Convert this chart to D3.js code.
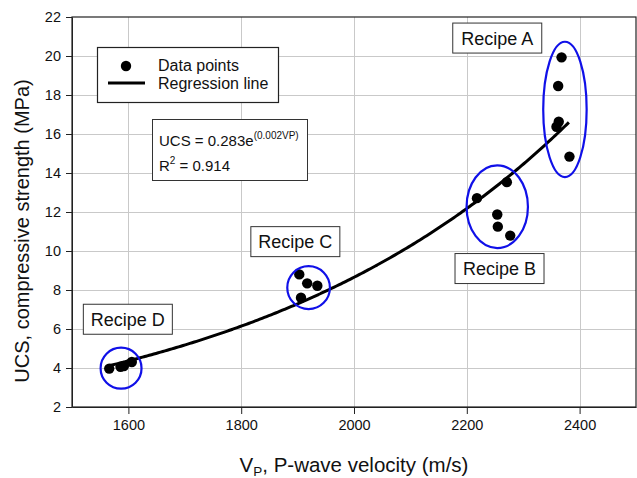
<!DOCTYPE html>
<html>
<head>
<meta charset="utf-8">
<script src="https://cdn.jsdelivr.net/npm/d3@7"></script>
<style>
  html, body { margin: 0; padding: 0; background: #fff; }
  svg { display: block; font-family: "Liberation Sans", Arial, Helvetica, sans-serif; }
</style>
</head>
<body>
<svg id="chart" width="637" height="478"></svg>
<script>
// Measured samples: P-wave velocity (m/s) and UCS (MPa), grouped by recipe
const recipes = ["Recipe A", "Recipe B", "Recipe C", "Recipe D"];
const recipeVp = [
  [2368, 2362, 2363, 2359, 2382],
  [2218, 2271, 2254, 2255, 2277],
  [1903, 1917, 1935, 1906],
  [1566, 1586, 1592, 1606]
];
const recipeUcs = [
  [19.93, 18.46, 16.63, 16.37, 14.84],
  [12.71, 13.53, 11.87, 11.25, 10.79],
  [8.80, 8.34, 8.22, 7.60],
  [3.97, 4.06, 4.10, 4.31]
];

// Exponential fit UCS = a * exp(b * Vp), drawn over the measured Vp range
const fitA = 0.283;
const fitB = 0.00171;
const fitRange = [1565, 2383];
const fitLabel = "0.002VP";
const rSquared = 0.914;

// Axis ticks
const xTicks = [1600, 1800, 2000, 2200, 2400];
const yTicks = [2, 4, 6, 8, 10, 12, 14, 16, 18, 20, 22];

// Group outlines (centre and half-extent, in data units) and their tag positions
const groupEllipses = [
  { cx: 2374, cy: 17.26, rx: 38.5, ry: 3.47 },
  { cx: 2254, cy: 12.27, rx: 54.4, ry: 2.12 },
  { cx: 1919.5, cy: 8.12, rx: 37.8, ry: 1.10 },
  { cx: 1587, cy: 3.99, rx: 36.3, ry: 1.05 }
];
const groupTags = [
  { x: 2254, y: 20.92 },
  { x: 2258, y: 9.10 },
  { x: 1896, y: 10.48 },
  { x: 1599, y: 6.50 }
];

const svg = d3.select("#chart");
const margin = { left: 72, right: 1, top: 17, bottom: 71 };
const W = +svg.attr("width"), H = +svg.attr("height");

const x = d3.scaleLinear().domain([1500, 2500]).range([margin.left, W - margin.right]);
const y = d3.scaleLinear().domain([2, 22]).range([H - margin.bottom, margin.top]);

// Grid
const grid = svg.append("g").attr("stroke", "#c9c9c9").attr("stroke-width", 1);
grid.selectAll("line.v").data(xTicks).join("line")
  .attr("x1", d => Math.round(x(d)) + 0.5).attr("x2", d => Math.round(x(d)) + 0.5)
  .attr("y1", y(22)).attr("y2", y(2));
grid.selectAll("line.h").data(yTicks.filter(d => d > 2 && d < 22)).join("line")
  .attr("x1", x(1500)).attr("x2", x(2500))
  .attr("y1", d => Math.round(y(d)) + 0.5).attr("y2", d => Math.round(y(d)) + 0.5);

// Axes
const xAxis = svg.append("g")
  .attr("transform", `translate(0,${y(2)})`)
  .call(d3.axisBottom(x).tickValues(xTicks).tickFormat(d3.format("d"))
    .tickSize(7).tickPadding(6).tickSizeOuter(0));
const yAxis = svg.append("g")
  .attr("transform", `translate(${x(1500)},0)`)
  .call(d3.axisLeft(y).tickValues(yTicks).tickFormat(d3.format("d"))
    .tickSize(6).tickPadding(5).tickSizeOuter(0));
[xAxis, yAxis].forEach(g => {
  g.selectAll("text").attr("font-size", 14.5).attr("fill", "#111")
    .attr("font-family", "'Liberation Sans', Arial, sans-serif");
  g.selectAll("line").attr("stroke", "#222");
  g.select(".domain").attr("stroke", "#222");
});

// Plot frame
svg.append("rect")
  .attr("x", x(1500)).attr("y", y(22))
  .attr("width", x(2500) - x(1500)).attr("height", y(2) - y(22))
  .attr("fill", "none").attr("stroke", "#222").attr("stroke-width", 1.2);

// Regression curve
const curveVp = d3.range(fitRange[0], fitRange[1] + 1, 4);
const line = d3.line().x(d => x(d)).y(d => y(fitA * Math.exp(fitB * d))).curve(d3.curveMonotoneX);
svg.append("path").datum(curveVp)
  .attr("d", line).attr("fill", "none").attr("stroke", "#000").attr("stroke-width", 3);

// Data points
const points = recipes.flatMap((r, i) => recipeVp[i].map((v, j) => ({ v, u: recipeUcs[i][j] })));
svg.append("g").selectAll("circle").data(points).join("circle")
  .attr("cx", d => x(d.v)).attr("cy", d => y(d.u)).attr("r", 5.2).attr("fill", "#000");

// Group outlines
svg.append("g").selectAll("ellipse").data(groupEllipses).join("ellipse")
  .attr("cx", d => x(d.cx)).attr("cy", d => y(d.cy))
  .attr("rx", d => x(d.cx + d.rx) - x(d.cx)).attr("ry", d => y(d.cy) - y(d.cy + d.ry))
  .attr("fill", "none").attr("stroke", "#1010e8").attr("stroke-width", 2.2);

// Recipe tags
const tags = svg.append("g").selectAll("g").data(recipes).join("g")
  .attr("transform", (d, i) => `translate(${x(groupTags[i].x)},${y(groupTags[i].y)})`);
tags.append("rect").attr("x", -44.5).attr("y", -15).attr("width", 89).attr("height", 30)
  .attr("fill", "#fff").attr("stroke", "#333").attr("stroke-width", 1);
tags.append("text").attr("text-anchor", "middle").attr("y", 6.5)
  .attr("font-size", 18).attr("fill", "#111").text(d => d);

// Legend
const leg = svg.append("g");
leg.append("rect").attr("x", 97.5).attr("y", 47.5).attr("width", 181).attr("height", 55)
  .attr("fill", "#fff").attr("stroke", "#222").attr("stroke-width", 1.2);
leg.append("circle").attr("cx", 126).attr("cy", 66).attr("r", 5.2).attr("fill", "#000");
leg.append("line").attr("x1", 108).attr("x2", 145).attr("y1", 83).attr("y2", 83)
  .attr("stroke", "#000").attr("stroke-width", 3);
leg.append("text").attr("x", 158).attr("y", 71).attr("font-size", 16).attr("fill", "#111").text("Data points");
leg.append("text").attr("x", 158).attr("y", 89).attr("font-size", 16).attr("fill", "#111").text("Regression line");

// Fit equation box
const eq = svg.append("g");
eq.append("rect").attr("x", 152.5).attr("y", 119.5).attr("width", 155).attr("height", 61)
  .attr("fill", "#fff").attr("stroke", "#333").attr("stroke-width", 1);
const t1 = eq.append("text").attr("x", 159).attr("y", 146).attr("font-size", 15).attr("fill", "#111");
t1.append("tspan").text(`UCS = ${fitA}e`);
t1.append("tspan").attr("font-size", 10).attr("dy", -7).text(`(${fitLabel})`);
const t2 = eq.append("text").attr("x", 159).attr("y", 171).attr("font-size", 15).attr("fill", "#111");
t2.append("tspan").text("R");
t2.append("tspan").attr("font-size", 10).attr("dy", -7).text("2");
t2.append("tspan").attr("dy", 7).text(` = ${rSquared}`);

// Axis titles
const xt = svg.append("text").attr("x", (x(1500) + x(2500)) / 2).attr("y", 472)
  .attr("text-anchor", "middle").attr("font-size", 20.5).attr("fill", "#111");
xt.append("tspan").text("V");
xt.append("tspan").attr("font-size", 13.5).attr("dy", 4).text("P");
xt.append("tspan").attr("dy", -4).text(", P-wave velocity (m/s)");

svg.append("text")
  .attr("transform", "translate(29,231) rotate(-90)")
  .attr("text-anchor", "middle").attr("font-size", 20).attr("fill", "#111")
  .text("UCS, compressive strength (MPa)");
</script>
</body>
</html>
